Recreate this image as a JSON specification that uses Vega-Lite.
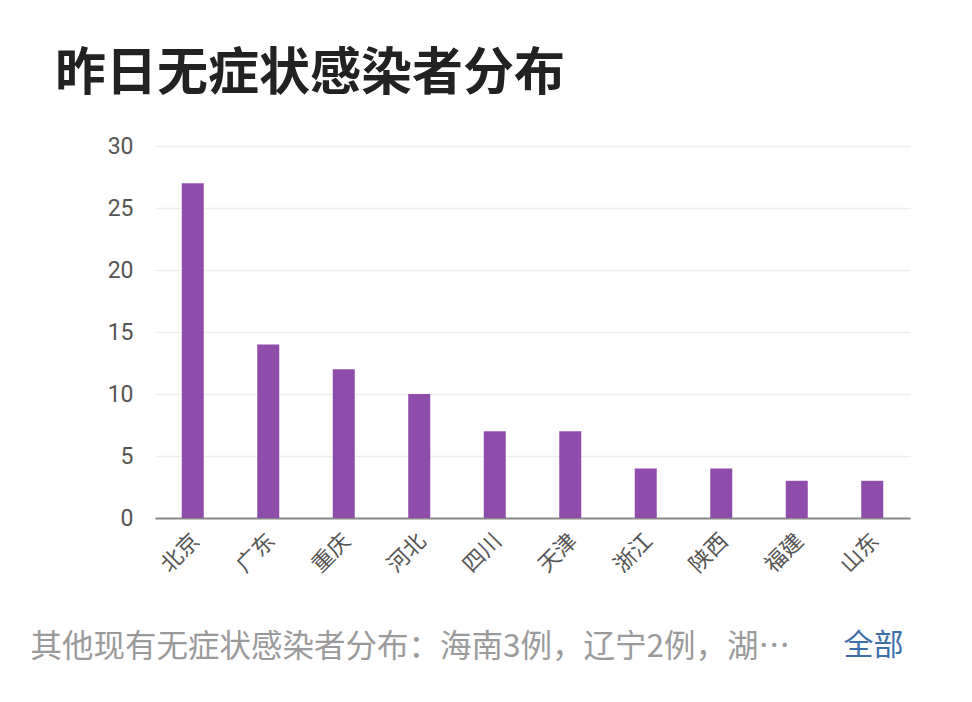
{
  "$schema": "https://vega.github.io/schema/vega-lite/v6.json",
  "width": 755,
  "height": 372,
  "autosize": "none",
  "padding": {"left": 155, "top": 146, "right": 62, "bottom": 184},
  "background": "#ffffff",
  "config": {"view": {"stroke": null}, "font": "Noto Sans CJK SC"},
  "title": {
    "text": "昨日无症状感染者分布",
    "anchor": "start",
    "frame": "group",
    "dx": -100,
    "fontSize": 51,
    "fontWeight": "bold",
    "color": "#222222",
    "font": "Noto Sans CJK SC",
    "offset": 34
  },
  "data": {
    "values": [
      {"province": "北京", "count": 27},
      {"province": "广东", "count": 14},
      {"province": "重庆", "count": 12},
      {"province": "河北", "count": 10},
      {"province": "四川", "count": 7},
      {"province": "天津", "count": 7},
      {"province": "浙江", "count": 4},
      {"province": "陕西", "count": 4},
      {"province": "福建", "count": 3},
      {"province": "山东", "count": 3}
    ]
  },
  "mark": {"type": "bar", "color": "#8e4dab", "size": 22},
  "encoding": {
    "x": {
      "field": "province",
      "type": "nominal",
      "sort": null,
      "axis": {
        "title": "其他现有无症状感染者分布：海南3例，辽宁2例，湖…",
        "titleX": -125,
        "titleY": 138,
        "titleAlign": "left",
        "titleBaseline": "alphabetic",
        "titleFontSize": 31.5,
        "titleFontWeight": "normal",
        "titleColor": "#9a9a9a",
        "titleFont": "Noto Sans CJK SC",
        "labelAngle": -45,
        "labelAlign": "right",
        "labelBaseline": "top",
        "labelPadding": 12,
        "labelOffset": -4,
        "labelFontSize": 22,
        "labelColor": "#555555",
        "labelFont": "Noto Sans CJK SC",
        "ticks": false,
        "domainColor": "#888888",
        "domainWidth": 2
      }
    },
    "y": {
      "field": "count",
      "type": "quantitative",
      "scale": {"domain": [0, 30]},
      "axis": {
        "title": "全部",
        "titleAngle": 0,
        "titleX": 688,
        "titleY": 508,
        "titleAlign": "left",
        "titleBaseline": "alphabetic",
        "titleFontSize": 30,
        "titleFontWeight": "normal",
        "titleColor": "#3d6ea8",
        "titleFont": "Noto Sans CJK SC",
        "values": [0, 5, 10, 15, 20, 25, 30],
        "labelFontSize": 23,
        "labelColor": "#555555",
        "labelFont": "Roboto",
        "labelPadding": 22,
        "ticks": false,
        "domain": false,
        "gridColor": "#eeeeee",
        "gridWidth": 1.5
      }
    }
  }
}
